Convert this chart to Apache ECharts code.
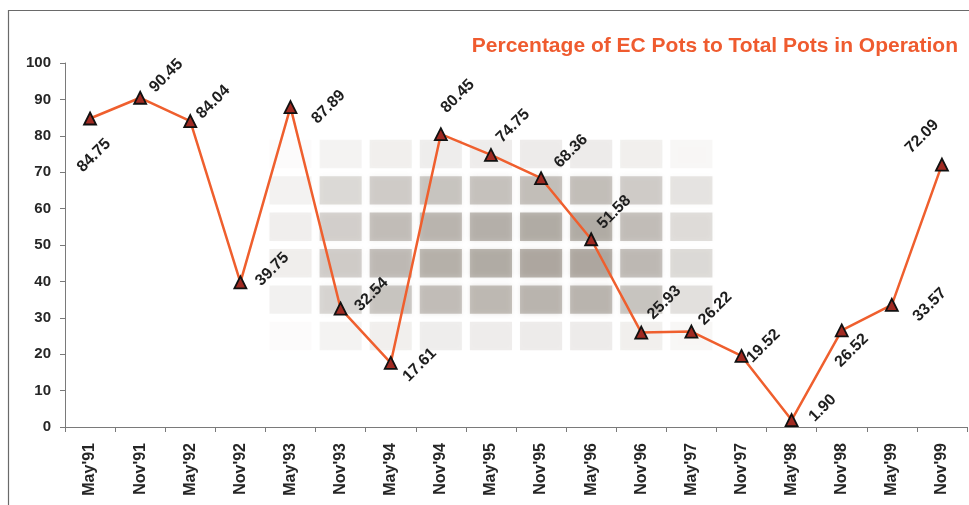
<!DOCTYPE html>
<html>
<head>
<meta charset="utf-8">
<script src="https://cdn.jsdelivr.net/npm/echarts@6/dist/echarts.min.js"></script>
<style>
  html, body { margin: 0; padding: 0; background: #fff; }
  #chart { width: 969px; height: 505px; }
</style>
</head>
<body>
<div id="chart"></div>
<script>
// Half-yearly readings, May 1991 to Nov 1999
const periods = ["May'91", "Nov'91", "May'92", "Nov'92", "May'93", "Nov'93", "May'94", "Nov'94", "May'95",
                 "Nov'95", "May'96", "Nov'96", "May'97", "Nov'97", "May'98", "Nov'98", "May'99", "Nov'99"];
const ecPotShare = [84.75, 90.45, 84.04, 39.75, 87.89, 32.54, 17.61, 80.45, 74.75,
                    68.36, 51.58, 25.93, 26.22, 19.52, 1.90, 26.52, 33.57, 72.09];
const yMin = 0, yMax = 100, yStep = 10;

// Where each value label sits relative to its marker (screen px, before the 45° turn)
const labelNudge = [[4, 37], [26, -22], [23, -19], [32, -13], [38, 0], [31, -14], [29, 2], [17, -38], [22, -29],
                    [30, -27], [23, -27], [23, -30], [24, -23], [22, -10], [31, -12], [10, 20], [38, 0], [-20, -28]];

// Decorative tile backdrop: category columns, value bands (lower bound) and their strengths
const tileCols = [4, 5, 6, 7, 8, 9, 10, 11, 12];
const tileColWeight = [0.22, 0.6, 0.8, 0.9, 0.95, 1, 1, 0.8, 0.45];
const tileRows = [70, 60, 50, 40, 30, 20];
const tileRowWeight = [0.25, 0.75, 0.95, 1, 0.85, 0.25];

const tiles = [];
tileCols.forEach((c, i) => {
  tileRows.forEach((r, j) => {
    tiles.push([c, r, +(0.52 * tileColWeight[i] * tileRowWeight[j]).toFixed(3)]);
  });
});

const LABEL_TURN = 45;
const k = Math.SQRT1_2;
const seriesData = ecPotShare.map((v, i) => {
  const [dx, dy] = labelNudge[i];
  // the label offset is applied in the rotated frame, so undo the rotation here
  return { value: v, label: { offset: [k * (dx - dy), k * (dx + dy)] } };
});

const font = "'Liberation Sans', Arial, sans-serif";
const chart = echarts.init(document.getElementById('chart'));
chart.setOption({
  backgroundColor: '#ffffff',
  animation: false,
  title: {
    text: 'Percentage of EC Pots to Total Pots in Operation',
    right: 6,
    top: 31,
    textStyle: { color: '#ef5b2f', fontSize: 21, fontWeight: 'bold', fontFamily: font }
  },
  graphic: [{
    type: 'rect',
    silent: true,
    shape: { x: 8.5, y: 10.5, width: 1000, height: 600 },
    style: { fill: 'transparent', stroke: '#6a6a6a', lineWidth: 1.2 }
  }],
  grid: { left: 65, right: 2, top: 63, bottom: 78, containLabel: false },
  xAxis: {
    type: 'category',
    data: periods,
    boundaryGap: true,
    axisLine: { lineStyle: { color: '#7a7a7a', width: 1 } },
    axisTick: { show: true, length: 5, inside: false, lineStyle: { color: '#7a7a7a' } },
    axisLabel: { rotate: 90, margin: 16, color: '#262626', fontSize: 16, fontWeight: 'bold', fontFamily: font, interval: 0 }
  },
  yAxis: {
    type: 'value',
    min: yMin, max: yMax, interval: yStep,
    axisLine: { show: true, lineStyle: { color: '#7a7a7a', width: 1 } },
    axisTick: { show: true, length: 5, lineStyle: { color: '#7a7a7a' } },
    axisLabel: { margin: 14, color: '#262626', fontSize: 15, fontWeight: 'bold', fontFamily: font },
    splitLine: { show: false }
  },
  series: [
    {
      type: 'custom',
      silent: true,
      z: 1,
      data: tiles,
      encode: { x: 0, y: 1 },
      renderItem(params, api) {
        const col = api.value(0), lo = api.value(1), a = api.value(2);
        const top = api.coord([col, lo + yStep]);
        const sz = api.size([1, yStep]);
        const inset = 4;
        return {
          type: 'rect',
          shape: { x: top[0] - sz[0] / 2 + inset, y: top[1] + inset, width: sz[0] - 2 * inset, height: sz[1] - 2 * inset },
          style: { fill: 'rgba(128,119,108,' + a + ')', shadowBlur: 5, shadowColor: 'rgba(128,119,108,' + a + ')' }
        };
      }
    },
    {
      type: 'line',
      z: 3,
      data: seriesData,
      symbol: 'triangle',
      symbolSize: 12,
      lineStyle: { color: '#ef5f2e', width: 2.5 },
      itemStyle: { color: '#a02a22', borderColor: '#111', borderWidth: 1.8 },
      label: {
        show: true,
        position: 'inside',
        rotate: LABEL_TURN,
        align: 'center',
        verticalAlign: 'middle',
        color: '#1e1e1e',
        fontSize: 16,
        fontWeight: 'bold',
        fontFamily: font,
        textBorderWidth: 0,
        formatter: p => p.value.toFixed(2)
      }
    }
  ]
});
</script>
</body>
</html>
